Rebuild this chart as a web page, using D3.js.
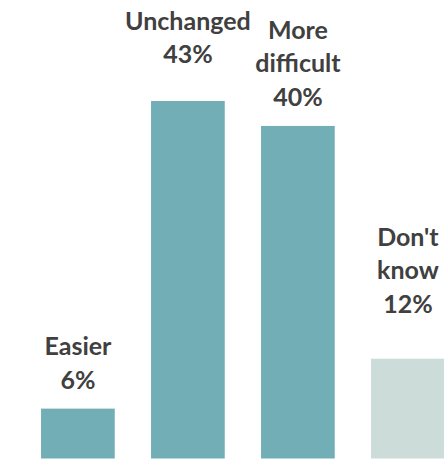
<!DOCTYPE html>
<html>
<head>
<meta charset="utf-8">
<script src="https://cdn.jsdelivr.net/npm/d3@7"></script>
<style>
  html, body { margin: 0; padding: 0; background: #ffffff; }
  svg { display: block; }
</style>
</head>
<body>
<script>
// Survey answers and their shares (%)
const categories = ["Easier", "Unchanged", "More difficult", "Don't know"];
const values = [6, 43, 40, 12];
// Label lines shown above each bar
const labelLines = [["Easier"], ["Unchanged"], ["More", "difficult"], ["Don't", "know"]];
// Gap between the last label line and the bar top (px)
const labelGaps = [20, 38, 20, 46];

const width = 444, height = 459;
const svg = d3.select("body").append("svg")
  .attr("width", width).attr("height", height);

const x = d3.scaleBand()
  .domain(categories)
  .range([22.9, 462.9])
  .paddingInner(0.33)
  .paddingOuter(0.165);

const y = d3.scaleLinear()
  .domain([0, 43])
  .range([458.5, 101]);

const fills = ["#72aeb5", "#72aeb5", "#72aeb5", "#cbdcd9"];

svg.selectAll("rect.bar")
  .data(values)
  .join("rect")
  .attr("class", "bar")
  .attr("x", (d, i) => x(categories[i]))
  .attr("y", d => y(d))
  .attr("width", x.bandwidth())
  .attr("height", d => y(0) - y(d))
  .attr("fill", (d, i) => fills[i]);

const lineH = 33.5;
const labels = svg.selectAll("text.label")
  .data(values)
  .join("text")
  .attr("class", "label")
  .attr("text-anchor", "middle")
  .attr("font-family", "Lato, 'Open Sans', sans-serif")
  .attr("font-weight", 700)
  .attr("font-size", 25)
  .attr("fill", "#404040");

labels.each(function (d, i) {
  const lines = labelLines[i].concat([d + "%"]);
  const cx = x(categories[i]) + x.bandwidth() / 2;
  const lastBase = y(d) - labelGaps[i];
  d3.select(this).selectAll("tspan")
    .data(lines)
    .join("tspan")
    .attr("x", cx)
    .attr("y", (t, k) => lastBase - (lines.length - 1 - k) * lineH)
    .text(t => t);
});
</script>
</body>
</html>
